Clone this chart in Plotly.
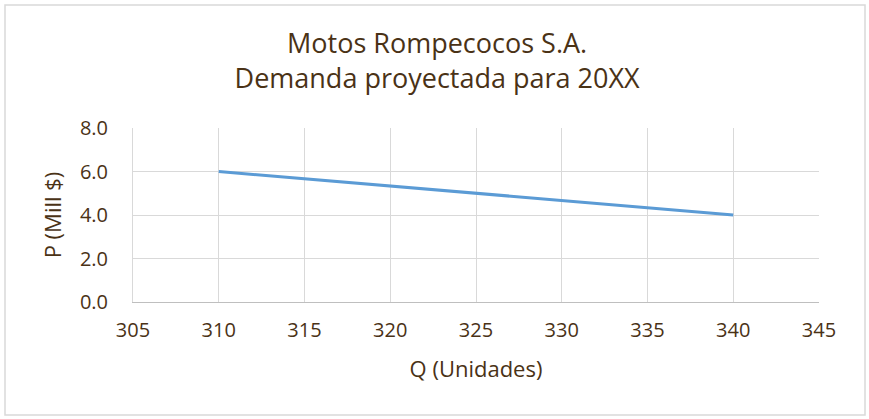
import plotly.graph_objects as go

q = [310, 340]
p = [6.0, 4.0]
x_ticks = [305, 310, 315, 320, 325, 330, 335, 340, 345]
y_ticks = [0.0, 2.0, 4.0, 6.0, 8.0]

txt = "#4a3216"
font = "'Open Sans', Lato, sans-serif"

fig = go.Figure()
fig.add_trace(go.Scatter(x=q, y=p, mode="lines",
                         line=dict(color="#5B9BD5", width=3), showlegend=False))

L, R, T, B = 133, 50, 128, 117
W, H = 869, 419
pw, ph = W - L - R, H - T - B

fig.update_layout(
    width=W, height=H,
    margin=dict(l=L, r=R, t=T, b=B, autoexpand=False),
    paper_bgcolor="white", plot_bgcolor="white",
    font=dict(family=font, color=txt),
    title=dict(text="Motos Rompecocos S.A.<br>Demanda proyectada para 20XX",
               x=0.503, xref="container", xanchor="center",
               y=1 - 53/H, yref="container", yanchor="middle",
               font=dict(size=27, color=txt, family=font)),
    xaxis=dict(range=[305, 345], tickvals=x_ticks, ticktext=[str(v) for v in x_ticks],
               showgrid=True, gridcolor="#d9d9d9", gridwidth=1,
               showline=True, linecolor="#bfbfbf", linewidth=1,
               zeroline=False, ticks="outside", ticklen=10, tickcolor="rgba(0,0,0,0)",
               tickfont=dict(size=20, color=txt),
               title=dict(text="Q (Unidades)", font=dict(size=22, color=txt), standoff=19)),
    yaxis=dict(range=[0, 8], tickvals=y_ticks, ticktext=[f"{v:.1f}" for v in y_ticks],
               showgrid=True, gridcolor="#d9d9d9", gridwidth=1,
               showline=True, linecolor="#d9d9d9", linewidth=1,
               zeroline=False, ticks="outside", ticklen=20, tickcolor="rgba(0,0,0,0)",
               tickfont=dict(size=20, color=txt),
               title=dict(text="P (Mill $)", font=dict(size=22, color=txt), standoff=12)),
)

fig.add_shape(type="rect", xref="paper", yref="paper",
              x0=(5 - L) / pw, x1=(865 - L) / pw,
              y0=(H - B - 415) / ph, y1=(H - B - 5) / ph,
              line=dict(color="#d9d9d9", width=1.5), fillcolor="rgba(0,0,0,0)", layer="below")

fig.write_html("out.html", config={"displayModeBar": False},
               post_script="document.body.style.margin='0';")
